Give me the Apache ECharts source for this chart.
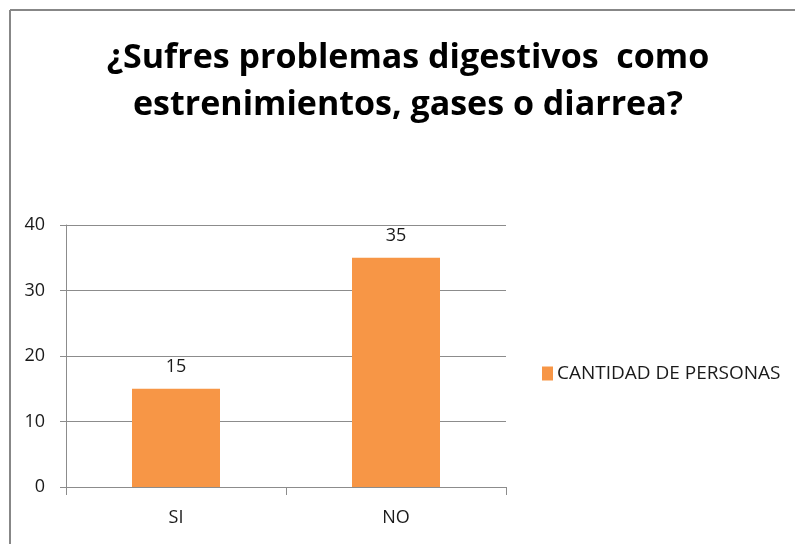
<!DOCTYPE html>
<html>
<head>
<meta charset="utf-8">
<script src="https://cdn.jsdelivr.net/npm/echarts@6/dist/echarts.min.js"></script>
<style>html,body{margin:0;padding:0;background:#fff}#c{width:795px;height:544px}</style>
</head>
<body>
<div id="c"></div>
<script>
const titleLines = ['¿Sufres problemas digestivos  como', 'estrenimientos, gases o diarrea?'];
const categories = ['SI', 'NO'];
const seriesName = 'CANTIDAD DE PERSONAS';
const values = [15, 35];
const yTicks = { min: 0, max: 40, interval: 10 };

const chart = echarts.init(document.getElementById('c'), null, { renderer: 'canvas' });
const font = 'Open Sans';
chart.setOption({
  animation: false,
  backgroundColor: '#fff',
  title: {
    text: titleLines.join('\n'),
    left: 408, top: 35, textAlign: 'center', padding: 0,
    textStyle: { fontFamily: font, fontWeight: 'bold', fontSize: 34, lineHeight: 47, color: '#000' }
  },
  graphic: [
    { type: 'line', shape: { x1: 10, y1: 10, x2: 10, y2: 544 }, style: { stroke: '#878787', lineWidth: 2 } },
    { type: 'line', shape: { x1: 10, y1: 10, x2: 795, y2: 10 }, style: { stroke: '#878787', lineWidth: 2 } }
  ],
  legend: {
    left: 542, top: 364, padding: 0, itemWidth: 11, itemHeight: 14, itemGap: 4,
    icon: 'rect',
    textStyle: { fontFamily: font, fontSize: 19, color: '#1a1a1a', padding: [0, 0, 0, -1] },
    data: [seriesName]
  },
  grid: { left: 66, right: 289, top: 225, bottom: 57, containLabel: false },
  xAxis: {
    type: 'category', data: categories,
    axisLine: { lineStyle: { color: '#8c8c8c', width: 1 } },
    axisTick: { show: true, alignWithLabel: false, length: 8, lineStyle: { color: '#8c8c8c' } },
    axisLabel: { fontFamily: font, fontSize: 18, color: '#1a1a1a', margin: 22 }
  },
  yAxis: {
    type: 'value', min: yTicks.min, max: yTicks.max, interval: yTicks.interval,
    axisLine: { show: true, lineStyle: { color: '#8c8c8c' } },
    axisTick: { show: true, length: 6, lineStyle: { color: '#8c8c8c' } },
    splitLine: { lineStyle: { color: '#8c8c8c' } },
    axisLabel: { fontFamily: font, fontSize: 18, color: '#1a1a1a', margin: 21 }
  },
  series: [{
    name: seriesName, type: 'bar', data: values, barWidth: '40%',
    itemStyle: { color: '#F79646' },
    label: { show: true, position: 'top', distance: 13, fontFamily: font, fontSize: 18, color: '#1a1a1a' }
  }]
});
</script>
</body>
</html>
